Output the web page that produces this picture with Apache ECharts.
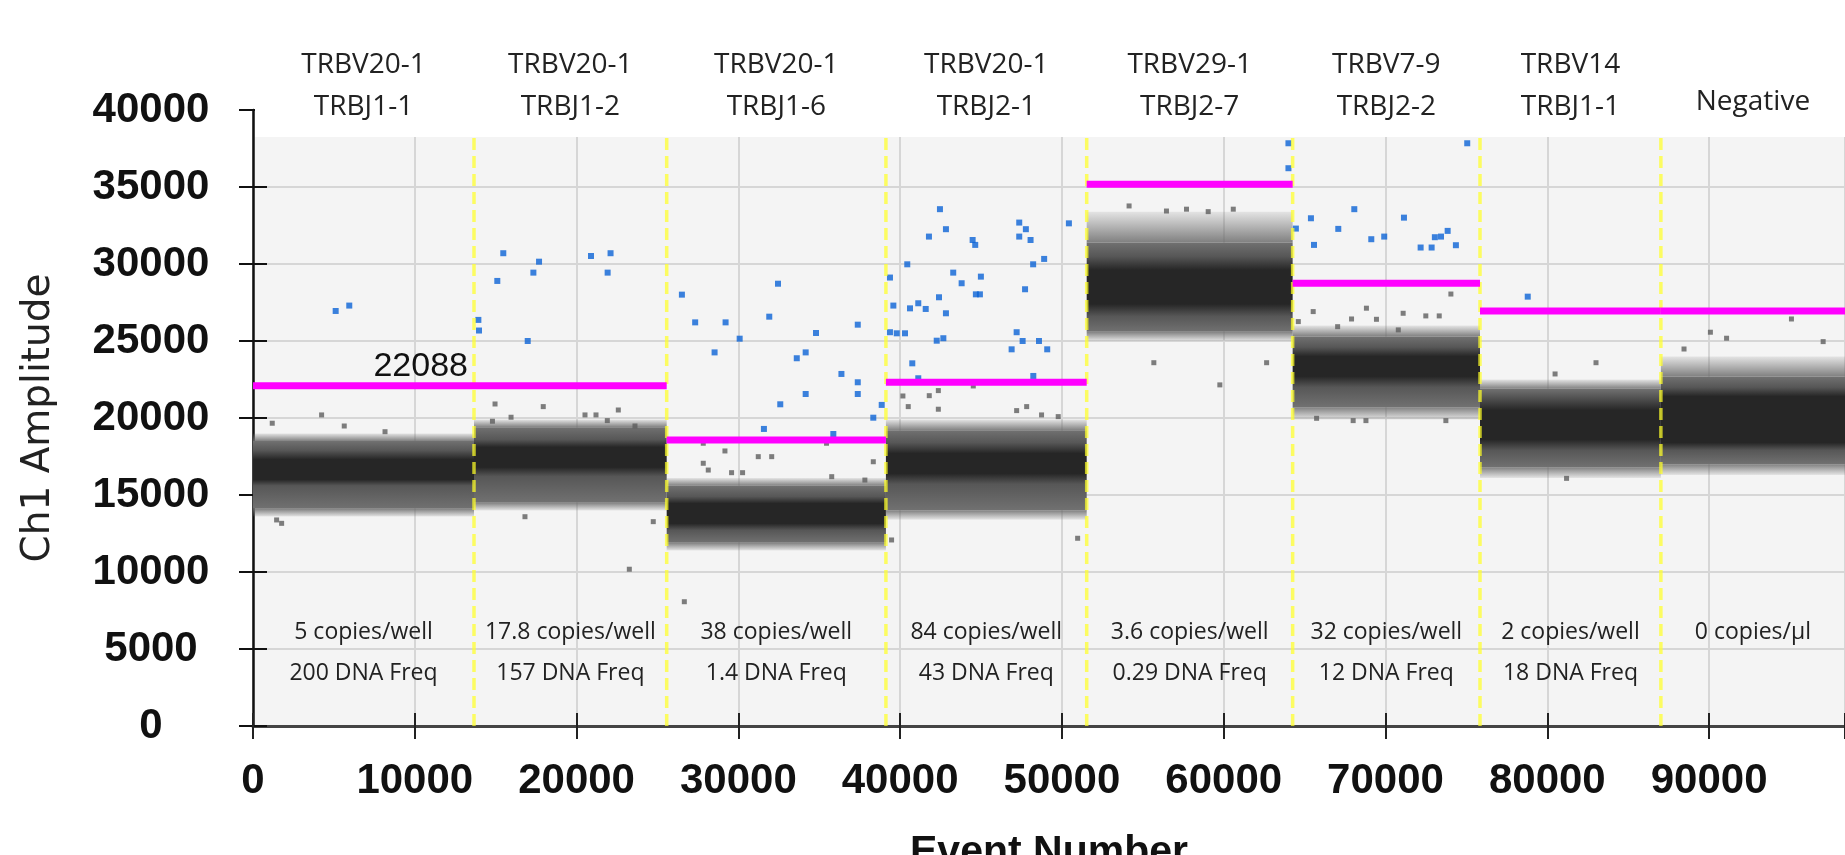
<!DOCTYPE html>
<html>
<head>
<meta charset="utf-8">
<title>Ch1 Amplitude by event</title>
<script src="https://cdn.jsdelivr.net/npm/echarts@6/dist/echarts.min.js"></script>
<style>
  html, body { margin: 0; padding: 0; background: #fff; overflow: hidden; }
  #chart { width: 1845px; height: 855px; }
</style>
</head>
<body>
<div id="chart"></div>
<script>
// well borders on the event axis (last value = end of the axis)
var wellEdges = [0, 13660, 25570, 39120, 51530, 64260, 75840, 87020, 98400]
var wellTargets = [
  ['TRBV20-1', 'TRBJ1-1'], ['TRBV20-1', 'TRBJ1-2'], ['TRBV20-1', 'TRBJ1-6'], ['TRBV20-1', 'TRBJ2-1'],
  ['TRBV29-1', 'TRBJ2-7'], ['TRBV7-9', 'TRBJ2-2'], ['TRBV14', 'TRBJ1-1'], ['Negative']
]
var wellCopies = ['5 copies/well', '17.8 copies/well', '38 copies/well', '84 copies/well',
  '3.6 copies/well', '32 copies/well', '2 copies/well', '0 copies/µl']
var wellFreq = ['200 DNA Freq', '157 DNA Freq', '1.4 DNA Freq', '43 DNA Freq',
  '0.29 DNA Freq', '12 DNA Freq', '18 DNA Freq', '']
var thresholds = [22088, 22088, 18570, 22320, 35180, 28750, 26950, 26950]

// negative droplet cloud of each well:
// fringe low, outer low, mid low, core low, core high, mid high, outer high, fringe high
var clusterBands = [
  [13600, 14100, 15600, 16000, 17300, 17900, 18500, 19000],
  [14000, 14500, 16200, 16800, 18100, 18600, 19400, 19900],
  [11400, 11900, 12700, 13150, 14450, 14900, 15600, 16100],
  [13400, 14000, 15700, 16400, 17700, 18400, 19200, 19900],
  [25000, 25600, 26600, 27400, 29600, 30500, 31400, 33400],
  [19900, 20700, 22000, 22700, 24000, 24600, 25300, 26000],
  [16100, 16800, 17900, 18600, 20500, 21400, 21900, 22500],
  [16300, 17000, 17900, 18400, 21400, 22000, 22700, 24000]
]

// stray negative droplets outside the clouds
var greyDroplets = [
  [1190, 19660], [4240, 20200], [5640, 19480], [8160, 19110], [1460, 13380], [1770, 13160],
  [14960, 20910], [17940, 20740], [15950, 20050], [14800, 19790], [20520, 20200], [21200, 20200],
  [22580, 20520], [21900, 19830], [23610, 19480], [24740, 13270], [23260, 10180], [16810, 13590],
  [27830, 18360], [29170, 17860], [31230, 17490], [32060, 17490], [27830, 17060], [28140, 16620],
  [29580, 16450], [30260, 16450], [38340, 17160], [35450, 18360], [26660, 8070], [37820, 15970],
  [35770, 16190],
  [40170, 21430], [40500, 20740], [41800, 21450], [42360, 21780], [42360, 20570], [44520, 22080],
  [47200, 20480], [47820, 20740], [48740, 20200], [49770, 20090], [50970, 12190], [39470, 12080],
  [55680, 23590], [59760, 22150], [62650, 23590], [54150, 33770], [56460, 33440], [57700, 33560],
  [59040, 33400], [60590, 33560],
  [65530, 26910], [67040, 25930], [67900, 26430], [68820, 27130], [69440, 26410], [71090, 26800],
  [72490, 26630], [73320, 26630], [74040, 28050], [70790, 25720], [64610, 26260], [68000, 19830],
  [68790, 19830], [73730, 19830], [65740, 19980],
  [83010, 23590], [80480, 22860], [81190, 16080],
  [90080, 25570], [95090, 26430], [88450, 24480], [91080, 25180], [97050, 24960]
]

// positive droplets
var blueDroplets = [
  [5110, 26950], [5950, 27300],
  [13930, 26370], [13970, 25680], [15470, 30700], [15100, 28900], [17330, 29440], [17680, 30150],
  [16980, 25000], [20890, 30520], [22100, 30700], [21920, 29440],
  [26510, 28010], [27330, 26210], [29210, 26210], [28530, 24260], [30080, 25150], [31910, 26580],
  [32450, 28720], [34800, 25520], [37380, 26060], [33610, 23880], [34160, 24260], [36370, 22860],
  [37380, 22320], [37380, 21560], [34160, 21560], [32590, 20890], [31580, 19290], [38340, 20020],
  [38860, 20850], [35870, 18960], [37340, 18570],
  [39370, 29120], [39580, 27300], [39370, 25570], [39790, 25500], [40300, 25500], [40440, 29980],
  [40610, 27120], [41120, 27450], [41580, 27080], [41780, 31780], [42400, 27840], [42830, 26800],
  [42460, 33560], [42830, 32260], [43280, 29440], [43800, 28750], [44480, 31560], [44640, 31240],
  [44990, 29180], [44930, 28030], [44680, 28030], [42260, 25020], [42670, 25180], [40750, 23550],
  [41120, 22580], [47360, 32690], [47770, 32260], [47360, 31780], [48060, 31560], [50430, 32640],
  [48220, 29980], [48900, 30330], [47720, 28360], [47200, 25570], [47570, 25000], [46890, 24460],
  [48580, 25000], [49090, 24460], [48230, 22730],
  [64000, 37840], [64000, 36220],
  [64460, 32300], [65390, 32970], [65580, 31240], [67080, 32280], [68070, 33560], [69120, 31610],
  [69920, 31780], [71140, 33010], [72170, 31070], [72850, 31070], [73050, 31740], [73430, 31780],
  [73840, 32150], [74350, 31220], [75050, 37840],
  [78790, 27880]
]

var X_MAX = wellEdges[wellEdges.length - 1]
var BG_TOP = 38250 // grey plot area stops here, white strip above
var COPIES_Y = 6100
var FREQ_Y = 3400

var chart = echarts.init(document.getElementById('chart'))

var clusterData = clusterBands.map(function (b, i) { return [wellEdges[i], wellEdges[i + 1]].concat(b) })
var thresholdData = thresholds.map(function (t, i) { return [wellEdges[i], wellEdges[i + 1], t, i] })
var dividerData = wellEdges.slice(1, -1).map(function (x) { return [x, 0] })
var labelData = wellTargets.map(function (t, i) { return [(wellEdges[i] + wellEdges[i + 1]) / 2, i] })

function renderCluster(params, api) {
  var x0 = api.value(0), x1 = api.value(1)
  var b = []
  for (var k = 0; k < 8; k++) b.push(api.value(k + 2))
  var left = api.coord([x0, 0])[0], right = api.coord([x1, 0])[0]
  var py = function (v) { return api.coord([x0, v])[1] }
  var top = py(b[6]), bottom = py(b[1]), h = bottom - top
  var off = function (v) { return (py(v) - top) / h }
  var fade = 'rgba(110,110,110,0.12)', edge = 'rgba(108,108,108,0.85)'
  return {
    type: 'group',
    children: [
      {
        type: 'rect',
        shape: { x: left, y: py(b[7]), width: right - left, height: top - py(b[7]) },
        style: { fill: new echarts.graphic.LinearGradient(0, 0, 0, 1, [{ offset: 0, color: fade }, { offset: 1, color: edge }]) }
      },
      {
        type: 'rect',
        shape: { x: left, y: bottom, width: right - left, height: py(b[0]) - bottom },
        style: { fill: new echarts.graphic.LinearGradient(0, 0, 0, 1, [{ offset: 0, color: edge }, { offset: 1, color: fade }]) }
      },
      {
        type: 'rect',
        shape: { x: left, y: top, width: right - left, height: h },
        style: {
          fill: new echarts.graphic.LinearGradient(0, 0, 0, 1, [
            { offset: 0, color: '#717171' },
            { offset: off(b[5]), color: '#575757' },
            { offset: off(b[4]), color: '#262626' },
            { offset: off(b[3]), color: '#262626' },
            { offset: off(b[2]), color: '#575757' },
            { offset: 1, color: '#717171' }
          ])
        }
      }
    ]
  }
}

function renderDivider(params, api) {
  var p0 = api.coord([api.value(0), 0]), p1 = api.coord([api.value(0), BG_TOP])
  return {
    type: 'line',
    shape: { x1: p0[0], y1: p0[1], x2: p1[0], y2: p1[1] },
    style: { stroke: 'rgba(255,255,40,0.72)', lineWidth: 3.5, lineDash: [12, 6] }
  }
}

function renderThreshold(params, api) {
  var t = api.value(2)
  var p0 = api.coord([api.value(0), t]), p1 = api.coord([api.value(1), t])
  var children = [{
    type: 'line',
    shape: { x1: p0[0], y1: p0[1], x2: p1[0], y2: p1[1] },
    style: { stroke: '#ff00ff', lineWidth: 7 }
  }]
  if (api.value(3) === 0) {
    children.push({
      type: 'text',
      style: {
        text: String(t), x: p1[0] - 6, y: p1[1] - 2, align: 'right', verticalAlign: 'bottom',
        fontSize: 34, fontFamily: 'Liberation Sans', fill: '#111'
      }
    })
  }
  return { type: 'group', children: children }
}

function renderLabels(params, api) {
  var c = api.value(0), i = api.value(1)
  var x = api.coord([c, 0])[0]
  var gridTop = api.coord([c, 40000])[1]
  var head = { fontSize: 28, fontFamily: 'Open Sans', fill: '#222', align: 'center', verticalAlign: 'middle' }
  var foot = { fontSize: 23, fontFamily: 'Open Sans', fill: '#222', align: 'center', verticalAlign: 'middle' }
  var lines = wellTargets[i]
  var children = []
  if (lines.length === 2) {
    children.push({ type: 'text', style: Object.assign({ text: lines[0], x: x, y: gridTop - 45 }, head) })
    children.push({ type: 'text', style: Object.assign({ text: lines[1], x: x, y: gridTop - 3 }, head) })
  } else {
    children.push({ type: 'text', style: Object.assign({ text: lines[0], x: x, y: gridTop - 8 }, head) })
  }
  children.push({ type: 'text', style: Object.assign({ text: wellCopies[i], x: x, y: api.coord([c, COPIES_Y])[1] }, foot) })
  if (wellFreq[i]) {
    children.push({ type: 'text', style: Object.assign({ text: wellFreq[i], x: x, y: api.coord([c, FREQ_Y])[1] }, foot) })
  }
  return { type: 'group', children: children }
}

function renderTopStrip(params, api) {
  var p0 = api.coord([0, 40000]), p1 = api.coord([X_MAX, BG_TOP])
  return {
    type: 'rect',
    shape: { x: p0[0] + 2, y: p0[1] - 1, width: p1[0] - p0[0], height: p1[1] - p0[1] + 1 },
    style: { fill: '#ffffff' }
  }
}

var tickFont = { fontFamily: 'Liberation Sans', fontWeight: 'bold', fontSize: 42, color: '#111' }

chart.setOption({
  animation: false,
  grid: {
    left: 253, top: 110, right: 0, bottom: 129,
    outerBoundsMode: 'none', containLabel: false,
    show: true, backgroundColor: '#f4f4f4', borderWidth: 0
  },
  xAxis: [{
    type: 'value', min: 0, max: X_MAX, interval: 10000, position: 'bottom',
    name: 'Event Number', nameLocation: 'middle', nameGap: 106,
    nameTextStyle: { fontFamily: 'Liberation Sans', fontWeight: 'bold', fontSize: 41, color: '#111' },
    axisLine: { onZero: false, lineStyle: { color: '#444', width: 3 } },
    axisTick: { length: 13, lineStyle: { color: '#222', width: 2 } },
    axisLabel: Object.assign({
      margin: 34,
      formatter: function (v) { return v % 10000 === 0 ? String(v) : '' }
    }, tickFont),
    splitLine: { show: true, lineStyle: { color: '#d6d6d6', width: 2 } }
  }, {
    type: 'value', min: 0, max: X_MAX, interval: 10000, position: 'bottom',
    axisLine: { show: false },
    axisTick: { inside: true, length: 13, lineStyle: { color: '#222', width: 2 } },
    axisLabel: { show: false },
    splitLine: { show: false }
  }],
  yAxis: [{
    type: 'value', min: 0, max: 40000, interval: 5000, position: 'left',
    name: 'Ch1 Amplitude', nameLocation: 'middle', nameGap: 195,
    nameTextStyle: { fontFamily: 'DejaVu Sans', fontSize: 39, color: '#222' },
    axisLine: { onZero: false, lineStyle: { color: '#111', width: 2.5 } },
    axisTick: { length: 14, lineStyle: { color: '#111', width: 2 } },
    axisLabel: Object.assign({
      margin: 102, align: 'center',
      formatter: function (v) { return String(v) }
    }, tickFont),
    splitLine: { show: true, lineStyle: { color: '#d6d6d6', width: 2 } }
  }, {
    type: 'value', min: 0, max: 40000, interval: 5000, position: 'left',
    axisLine: { show: false },
    axisTick: { inside: true, length: 14, lineStyle: { color: '#111', width: 2 } },
    axisLabel: { show: false },
    splitLine: { show: false }
  }],
  series: [
    { type: 'custom', name: 'strip', renderItem: renderTopStrip, data: [[0, 40000]], z: 1, silent: true },
    {
      type: 'custom', name: 'droplet clouds', renderItem: renderCluster, data: clusterData, z: 2,
      encode: { x: [0, 1], y: [2, 9] }
    },
    {
      type: 'scatter', name: 'negative', data: greyDroplets, symbol: 'rect', symbolSize: 5,
      itemStyle: { color: '#5e5e5e' }, z: 3
    },
    {
      type: 'scatter', name: 'positive', data: blueDroplets, symbol: 'rect', symbolSize: 6,
      itemStyle: { color: '#0b63d6' }, z: 4
    },
    { type: 'custom', name: 'wells', renderItem: renderDivider, data: dividerData, z: 5 },
    {
      type: 'custom', name: 'threshold', renderItem: renderThreshold, data: thresholdData, z: 6,
      encode: { x: [0, 1], y: 2 }
    },
    {
      type: 'custom', name: 'labels', renderItem: renderLabels, data: labelData, z: 7, clip: false,
      encode: { x: 0, y: -1 }
    }
  ]
})
</script>
</body>
</html>
